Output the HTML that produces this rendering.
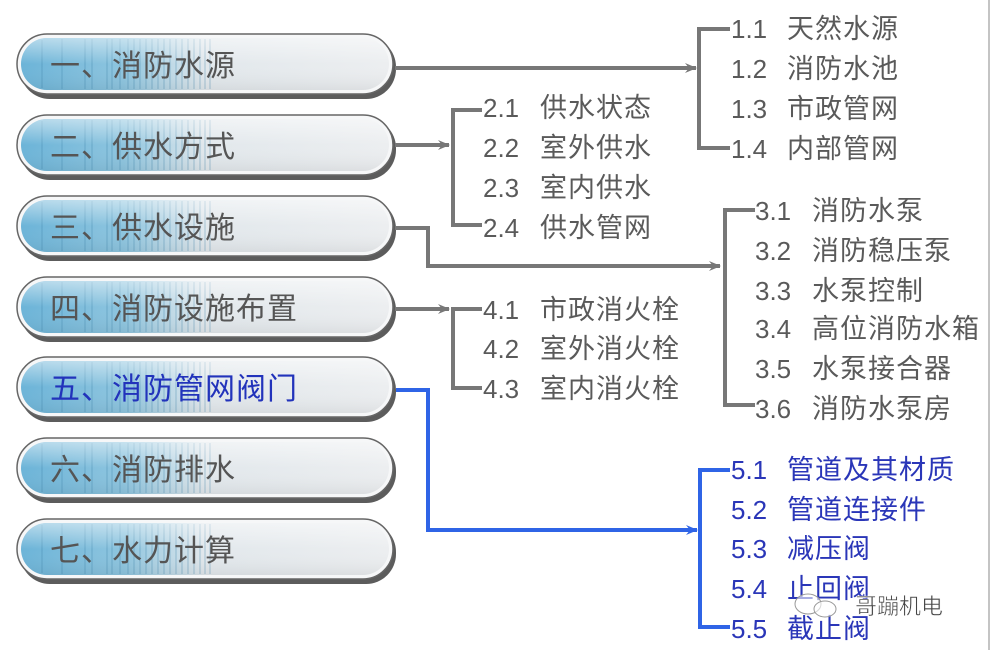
<!DOCTYPE html>
<html><head><meta charset="utf-8"><style>
html,body{margin:0;padding:0;background:#fff;}
svg{display:block;}
text{font-family:"Liberation Sans","Noto Sans CJK SC",sans-serif;}
</style></head><body>
<svg width="992" height="650" viewBox="0 0 992 650" xmlns="http://www.w3.org/2000/svg">
<defs>
<linearGradient id="pg" x1="0" y1="0" x2="1" y2="0">
<stop offset="0" stop-color="#6cb4d8"/>
<stop offset="0.28" stop-color="#8ec5df"/>
<stop offset="0.5" stop-color="#e2e8ec"/>
<stop offset="1" stop-color="#eceef0"/>
</linearGradient>
<linearGradient id="sh" x1="0" y1="0" x2="0" y2="1">
<stop offset="0" stop-color="#fff" stop-opacity="0.5"/>
<stop offset="0.5" stop-color="#fff" stop-opacity="0"/>
<stop offset="1" stop-color="#000" stop-opacity="0.06"/>
</linearGradient>
<g id="pill">
<rect x="20" y="3" width="376" height="62" rx="30" fill="#333" opacity="0.8"/>
<rect x="17" y="0" width="376" height="60" rx="30" fill="#f6f7f8" stroke="#666" stroke-width="1.5"/>
<rect x="21" y="4" width="368" height="52" rx="26" fill="url(#pg)"/>
<g stroke="#3a7fa6" stroke-width="0.7" opacity="0.55">
<line x1="42" y1="6" x2="42" y2="54"/><line x1="62" y1="5" x2="62" y2="55"/>
<line x1="85" y1="5" x2="85" y2="55"/><line x1="92" y1="5" x2="92" y2="55"/>
<line x1="107" y1="5" x2="107" y2="55"/><line x1="112" y1="5" x2="112" y2="55"/>
<line x1="120" y1="5" x2="120" y2="55"/><line x1="128" y1="5" x2="128" y2="55"/>
<line x1="134" y1="5" x2="134" y2="55"/><line x1="140" y1="5" x2="140" y2="55"/>
<line x1="146" y1="5" x2="146" y2="55"/><line x1="152" y1="5" x2="152" y2="55"/>
<line x1="158" y1="5" x2="158" y2="55"/><line x1="164" y1="5" x2="164" y2="55"/>
<line x1="170" y1="5" x2="170" y2="55"/><line x1="176" y1="5" x2="176" y2="55"/>
<line x1="182" y1="5" x2="182" y2="55"/><line x1="188" y1="5" x2="188" y2="55"/>
<line x1="194" y1="5" x2="194" y2="55"/><line x1="200" y1="5" x2="200" y2="55"/>
<line x1="205" y1="5" x2="205" y2="55"/><line x1="210" y1="5" x2="210" y2="55"/>
</g>
<rect x="21" y="4" width="368" height="52" rx="26" fill="url(#sh)"/>
</g>
<marker id="ag" markerWidth="12" markerHeight="10" refX="11" refY="5" orient="auto" markerUnits="userSpaceOnUse"><path d="M0,0 L12,5 L0,10 L4,5 Z" fill="#777"/></marker>
<marker id="ab" markerWidth="12" markerHeight="10" refX="11" refY="5" orient="auto" markerUnits="userSpaceOnUse"><path d="M0,0 L12,5 L0,10 L4,5 Z" fill="#2f64e6"/></marker>
</defs>

<use href="#pill" x="0" y="34"/>
<use href="#pill" x="0" y="115"/>
<use href="#pill" x="0" y="196"/>
<use href="#pill" x="0" y="277"/>
<use href="#pill" x="0" y="357"/>
<use href="#pill" x="0" y="438"/>
<use href="#pill" x="0" y="519"/>

<g font-size="30" fill="#555" letter-spacing="1">
<text x="50" y="76">一、消防水源</text>
<text x="50" y="157">二、供水方式</text>
<text x="50" y="238">三、供水设施</text>
<text x="50" y="319">四、消防设施布置</text>
<text x="50" y="399" fill="#2233bb">五、消防管网阀门</text>
<text x="50" y="480">六、消防排水</text>
<text x="50" y="561">七、水力计算</text>
</g>

<g stroke="#777" stroke-width="4" fill="none">
<path d="M395 68 H696" marker-end="url(#ag)"/>
<path d="M730 29 H699 V148 H730"/>
<path d="M395 145 H449" marker-end="url(#ag)"/>
<path d="M482 110 H453 V225 H482"/>
<path d="M395 228 H428 V266 H720" marker-end="url(#ag)"/>
<path d="M755 210 H725 V405 H755"/>
<path d="M395 309 H449" marker-end="url(#ag)"/>
<path d="M482 309 H453 V388 H482"/>
</g>
<g stroke="#2f64e6" stroke-width="4" fill="none">
<path d="M396 390 H428 V530 H697" marker-end="url(#ab)"/>
<path d="M730 470 H700 V627 H730"/>
</g>

<g font-size="26" fill="#5a5a5a">
<text x="731" y="38">1.1<tspan x="787" font-size="27" letter-spacing="1">天然水源</tspan></text>
<text x="731" y="78">1.2<tspan x="787" font-size="27" letter-spacing="1">消防水池</tspan></text>
<text x="731" y="118">1.3<tspan x="787" font-size="27" letter-spacing="1">市政管网</tspan></text>
<text x="731" y="158">1.4<tspan x="787" font-size="27" letter-spacing="1">内部管网</tspan></text>
<text x="483" y="117">2.1<tspan x="540" font-size="27" letter-spacing="1">供水状态</tspan></text>
<text x="483" y="157">2.2<tspan x="540" font-size="27" letter-spacing="1">室外供水</tspan></text>
<text x="483" y="197">2.3<tspan x="540" font-size="27" letter-spacing="1">室内供水</tspan></text>
<text x="483" y="237">2.4<tspan x="540" font-size="27" letter-spacing="1">供水管网</tspan></text>
<text x="755" y="220">3.1<tspan x="812" font-size="27" letter-spacing="1">消防水泵</tspan></text>
<text x="755" y="260">3.2<tspan x="812" font-size="27" letter-spacing="1">消防稳压泵</tspan></text>
<text x="755" y="300">3.3<tspan x="812" font-size="27" letter-spacing="1">水泵控制</tspan></text>
<text x="755" y="338">3.4<tspan x="812" font-size="27" letter-spacing="1">高位消防水箱</tspan></text>
<text x="755" y="378">3.5<tspan x="812" font-size="27" letter-spacing="1">水泵接合器</tspan></text>
<text x="755" y="418">3.6<tspan x="812" font-size="27" letter-spacing="1">消防水泵房</tspan></text>
<text x="483" y="319">4.1<tspan x="540" font-size="27" letter-spacing="1">市政消火栓</tspan></text>
<text x="483" y="358">4.2<tspan x="540" font-size="27" letter-spacing="1">室外消火栓</tspan></text>
<text x="483" y="398">4.3<tspan x="540" font-size="27" letter-spacing="1">室内消火栓</tspan></text>
</g>
<g font-size="26" fill="#2a36b8">
<text x="731" y="479">5.1<tspan x="787" font-size="27" letter-spacing="1">管道及其材质</tspan></text>
<text x="731" y="519">5.2<tspan x="787" font-size="27" letter-spacing="1">管道连接件</tspan></text>
<text x="731" y="558">5.3<tspan x="787" font-size="27" letter-spacing="1">减压阀</tspan></text>
<text x="731" y="598">5.4<tspan x="787" font-size="27" letter-spacing="1">止回阀</tspan></text>
<text x="731" y="638">5.5<tspan x="787" font-size="27" letter-spacing="1">截止阀</tspan></text>
</g>
<ellipse cx="808" cy="604" rx="13" ry="10" fill="#fff" fill-opacity="0.6" stroke="#999" stroke-width="1"/>
<ellipse cx="825" cy="609" rx="11" ry="8" fill="#fff" fill-opacity="0.6" stroke="#999" stroke-width="1"/>
<text x="855" y="614" font-size="22" fill="#444" stroke="#fff" stroke-width="0.5">哥蹦机电</text>
<line x1="989" y1="0" x2="989" y2="650" stroke="#888" stroke-width="1"/>
</svg>
</body></html>
